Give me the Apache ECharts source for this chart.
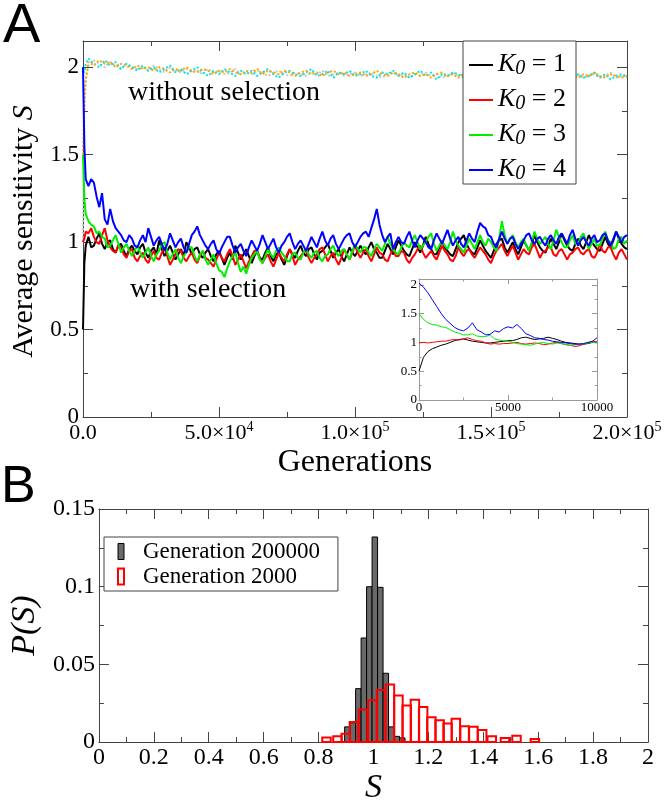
<!DOCTYPE html>
<html>
<head>
<meta charset="utf-8">
<title>Average sensitivity</title>
<script src="https://cdn.jsdelivr.net/npm/echarts@6/dist/echarts.min.js"></script>
<style>
    html, body {margin: 0; padding: 0; background: #fff;}
    #chartDiv {width: 667px; height: 806px;}
</style>
</head>
<body>
<div id="chartDiv"></div>
<script>
// ---------- panel A : long runs ----------
// with selection, sampled every 1000 generations
var selGens = [0, 500, 1000,
    2000, 3000, 4000, 5000, 6000, 7000, 8000, 9000, 10000, 11000,
    12000, 13000, 14000, 15000, 16000, 17000, 18000, 19000, 20000, 21000,
    22000, 23000, 24000, 25000, 26000, 27000, 28000, 29000, 30000, 31000,
    32000, 33000, 34000, 35000, 36000, 37000, 38000, 39000, 40000, 41000,
    42000, 43000, 44000, 45000, 46000, 47000, 48000, 49000, 50000, 51000,
    52000, 53000, 54000, 55000, 56000, 57000, 58000, 59000, 60000, 61000,
    62000, 63000, 64000, 65000, 66000, 67000, 68000, 69000, 70000, 71000,
    72000, 73000, 74000, 75000, 76000, 77000, 78000, 79000, 80000, 81000,
    82000, 83000, 84000, 85000, 86000, 87000, 88000, 89000, 90000, 91000,
    92000, 93000, 94000, 95000, 96000, 97000, 98000, 99000, 100000, 101000,
    102000, 103000, 104000, 105000, 106000, 107000, 108000, 109000, 110000, 111000,
    112000, 113000, 114000, 115000, 116000, 117000, 118000, 119000, 120000, 121000,
    122000, 123000, 124000, 125000, 126000, 127000, 128000, 129000, 130000, 131000,
    132000, 133000, 134000, 135000, 136000, 137000, 138000, 139000, 140000, 141000,
    142000, 143000, 144000, 145000, 146000, 147000, 148000, 149000, 150000, 151000,
    152000, 153000, 154000, 155000, 156000, 157000, 158000, 159000, 160000, 161000,
    162000, 163000, 164000, 165000, 166000, 167000, 168000, 169000, 170000, 171000,
    172000, 173000, 174000, 175000, 176000, 177000, 178000, 179000, 180000, 181000,
    182000, 183000, 184000, 185000, 186000, 187000, 188000, 189000, 190000, 191000,
    192000, 193000, 194000, 195000, 196000, 197000, 198000, 199000, 200000];

var k1Vals = [0.50, 0.88, 0.98,
    1.03, 0.97, 0.98, 1.02, 1.05, 0.99, 0.96, 1.00, 1.01, 0.96,
    0.94, 0.98, 0.99, 0.95, 0.92, 0.96, 0.98, 0.95, 0.93, 0.97,
    0.99, 0.94, 0.91, 0.95, 0.97, 0.93, 1.01, 0.96, 0.92, 0.95,
    0.98, 0.94, 0.90, 0.93, 0.96, 0.92, 1.00, 0.97, 0.93, 0.96,
    0.97, 0.93, 0.91, 0.94, 0.96, 0.92, 0.89, 0.93, 0.95, 0.91,
    0.87, 0.91, 0.94, 0.90, 0.98, 0.94, 0.90, 0.93, 0.96, 0.92,
    0.88, 0.92, 0.95, 0.91, 0.90, 0.94, 0.97, 0.92, 0.89, 0.93,
    0.94, 0.90, 0.87, 0.92, 0.96, 0.93, 0.91, 0.95, 0.98, 0.94,
    0.92, 0.96, 0.97, 0.93, 0.90, 0.94, 0.95, 0.97, 0.99, 0.95,
    0.91, 0.94, 0.96, 0.92, 0.89, 0.93, 0.97, 0.94, 0.92, 0.95,
    0.98, 0.95, 0.93, 0.97, 1.00, 0.96, 0.94, 0.91, 0.91, 0.95,
    0.99, 0.96, 0.93, 0.97, 1.01, 0.98, 0.95, 0.93, 0.92, 0.96,
    1.00, 0.97, 0.94, 0.98, 1.03, 0.99, 0.96, 0.93, 0.93, 0.97,
    1.01, 0.97, 0.95, 0.93, 0.92, 0.96, 1.00, 1.02, 1.04, 0.99,
    0.96, 0.94, 0.93, 0.97, 1.01, 0.98, 0.95, 0.93, 0.91, 0.95,
    0.99, 1.01, 1.02, 0.97, 0.94, 0.97, 1.00, 0.96, 0.93, 0.97,
    1.01, 0.98, 0.95, 0.99, 1.04, 1.00, 0.97, 0.95, 0.94, 0.98,
    1.02, 0.99, 0.96, 1.00, 1.05, 1.01, 0.98, 0.96, 0.95, 0.99,
    1.02, 0.98, 0.96, 1.00, 1.04, 1.00, 0.98, 0.96, 0.95, 0.99,
    1.03, 0.99, 0.97, 1.01, 1.06, 1.02, 0.99, 0.97, 0.96];
var k2Vals = [1.00, 1.02, 1.06,
    1.05, 1.08, 1.03, 1.00, 0.99, 1.04, 1.08, 1.01, 0.97, 0.95,
    0.94, 0.98, 0.97, 0.93, 0.91, 0.95, 0.96, 0.91, 0.89, 0.92,
    0.94, 0.90, 0.88, 0.92, 0.95, 0.91, 0.90, 0.94, 0.97, 0.92,
    0.87, 0.90, 0.93, 0.96, 0.95, 0.91, 0.89, 0.92, 0.94, 0.90,
    0.88, 0.92, 0.95, 0.91, 0.90, 0.88, 0.86, 0.90, 0.94, 0.91,
    0.89, 0.93, 0.96, 0.92, 0.87, 0.90, 0.93, 0.89, 0.85, 0.89,
    0.92, 0.95, 0.95, 0.91, 0.88, 0.91, 0.93, 0.89, 0.86, 0.90,
    0.94, 0.91, 0.89, 0.93, 0.96, 0.92, 0.87, 0.90, 0.92, 0.94,
    0.95, 0.91, 0.88, 0.91, 0.93, 0.96, 0.97, 0.93, 0.89, 0.92,
    0.94, 0.90, 0.87, 0.91, 0.96, 0.93, 0.90, 0.94, 0.98, 0.94,
    0.91, 0.94, 0.96, 0.92, 0.89, 0.93, 0.97, 0.94, 0.93, 0.90,
    0.89, 0.93, 0.96, 0.92, 0.92, 0.95, 0.94, 0.90, 0.88, 0.91,
    0.93, 0.96, 0.98, 0.94, 0.91, 0.93, 0.95, 0.92, 0.90, 0.94,
    0.98, 0.95, 0.93, 0.90, 0.89, 0.92, 0.97, 0.94, 0.92, 0.95,
    0.96, 0.93, 0.91, 0.94, 0.97, 0.95, 0.93, 0.90, 0.88, 0.92,
    0.95, 0.97, 0.99, 0.95, 0.92, 0.95, 0.98, 0.94, 0.90, 0.93,
    0.96, 0.94, 0.93, 0.97, 0.99, 0.95, 0.91, 0.94, 0.95, 0.97,
    0.97, 0.93, 0.92, 0.95, 0.96, 0.93, 0.90, 0.93, 0.94, 0.96,
    0.97, 0.94, 0.93, 0.95, 0.96, 0.92, 0.91, 0.94, 0.99, 0.95,
    0.94, 0.97, 0.97, 0.93, 0.90, 0.94, 0.96, 0.93, 0.90];
var k3Vals = [1.50, 1.25, 1.16,
    1.12, 1.10, 1.09, 1.05, 1.06, 1.03, 1.02, 0.97, 0.98, 1.01,
    1.04, 0.99, 0.94, 0.97, 0.99, 0.95, 0.92, 0.95, 0.98, 0.94,
    0.91, 0.94, 0.97, 0.92, 0.89, 0.93, 0.95, 0.99, 1.00, 0.94,
    0.90, 0.93, 0.96, 0.91, 0.88, 0.92, 0.94, 0.97, 0.97, 0.92,
    0.89, 0.93, 0.95, 0.90, 0.87, 0.90, 0.93, 0.88, 0.84, 0.83,
    0.80, 0.85, 0.89, 0.92, 0.94, 0.88, 0.83, 0.86, 0.82, 0.87,
    0.91, 0.93, 0.95, 0.90, 0.88, 0.92, 0.96, 0.93, 0.91, 0.95,
    0.97, 0.94, 0.92, 0.89, 0.89, 0.93, 0.94, 0.91, 0.90, 0.94,
    0.96, 0.93, 0.91, 0.94, 0.95, 0.91, 0.89, 0.92, 0.93, 0.96,
    0.98, 0.94, 0.92, 0.95, 0.96, 0.93, 0.90, 0.95, 0.99, 0.96,
    0.94, 0.97, 0.97, 0.94, 0.92, 0.96, 0.99, 0.97, 0.95, 0.99,
    1.03, 0.99, 0.96, 0.94, 0.93, 0.97, 1.00, 0.98, 0.97, 1.01,
    1.04, 1.00, 0.96, 0.98, 1.00, 1.03, 1.05, 0.99, 0.95, 0.98,
    1.01, 0.98, 0.96, 1.00, 1.06, 1.01, 0.98, 0.96, 0.94, 0.98,
    1.02, 0.99, 0.96, 1.00, 1.04, 1.00, 0.98, 1.02, 1.00, 0.97,
    0.95, 1.02, 1.12, 1.04, 0.99, 1.02, 1.04, 1.00, 0.97, 1.00,
    1.02, 0.98, 0.95, 1.00, 1.06, 1.02, 0.99, 1.01, 1.03, 0.99,
    0.96, 1.01, 1.07, 1.03, 1.00, 0.97, 0.97, 1.01, 1.04, 0.99,
    0.99, 1.03, 1.05, 1.00, 0.96, 0.99, 1.02, 0.98, 0.98, 1.02,
    1.06, 1.01, 1.00, 0.96, 0.97, 1.02, 1.03, 0.99, 1.01];
var k4Vals = [2.00, 1.55, 1.36,
    1.32, 1.36, 1.34, 1.26, 1.20, 1.28, 1.13, 1.10, 1.19, 1.12,
    1.08, 1.06, 1.04, 1.01, 1.00, 1.04, 1.02, 0.98, 0.97, 1.01,
    1.04, 1.00, 1.08, 1.03, 0.98, 1.01, 1.03, 0.99, 0.95, 0.99,
    1.05, 1.01, 0.97, 1.00, 1.02, 0.97, 0.94, 0.99, 1.04, 1.06,
    1.09, 1.04, 1.01, 0.98, 0.96, 0.99, 1.01, 0.96, 0.93, 0.97,
    1.00, 1.03, 1.03, 0.98, 0.94, 0.97, 0.99, 0.95, 0.92, 0.97,
    1.01, 0.98, 0.95, 0.99, 1.04, 1.00, 0.96, 0.99, 1.02, 0.97,
    0.94, 0.98, 1.00, 1.03, 1.05, 1.00, 0.96, 0.99, 1.01, 0.98,
    0.95, 0.99, 1.03, 1.00, 0.97, 1.02, 1.06, 1.01, 0.98, 1.02,
    1.04, 0.99, 0.96, 0.99, 1.02, 1.04, 1.05, 1.00, 0.97, 1.00,
    1.03, 1.05, 1.06, 1.03, 1.08, 1.13, 1.19, 1.10, 1.04, 1.00,
    1.03, 1.05, 0.96, 1.00, 1.03, 1.00, 0.99, 1.03, 1.06, 1.01,
    0.97, 1.01, 1.04, 1.02, 1.00, 0.97, 0.96, 1.01, 1.05, 1.02,
    0.99, 1.03, 1.07, 1.02, 0.98, 1.01, 1.03, 0.99, 0.97, 1.01,
    1.05, 1.02, 1.00, 1.06, 1.11, 1.09, 1.08, 1.04, 1.03, 0.99,
    0.97, 1.02, 1.06, 1.02, 0.99, 1.02, 1.03, 0.99, 0.96, 0.99,
    1.01, 1.04, 1.05, 1.01, 0.99, 1.02, 1.03, 1.00, 0.98, 1.02,
    1.04, 1.01, 0.99, 1.03, 1.05, 1.02, 0.99, 1.04, 1.07, 1.02,
    0.98, 1.01, 1.03, 1.00, 0.98, 1.02, 1.04, 1.00, 1.01, 1.04,
    1.05, 1.01, 0.98, 1.02, 1.06, 1.03, 1.00, 1.03, 1.04];

// without selection (dotted), sampled every 2000 generations
var freeGens = [0, 500, 1000,
    2000, 4000, 6000, 8000, 10000, 12000, 14000, 16000, 18000, 20000,
    22000, 24000, 26000, 28000, 30000, 32000, 34000, 36000, 38000, 40000,
    42000, 44000, 46000, 48000, 50000, 52000, 54000, 56000, 58000, 60000,
    62000, 64000, 66000, 68000, 70000, 72000, 74000, 76000, 78000, 80000,
    82000, 84000, 86000, 88000, 90000, 92000, 94000, 96000, 98000, 100000,
    102000, 104000, 106000, 108000, 110000, 112000, 114000, 116000, 118000, 120000,
    122000, 124000, 126000, 128000, 130000, 132000, 134000, 136000, 138000, 140000,
    142000, 144000, 146000, 148000, 150000, 152000, 154000, 156000, 158000, 160000,
    162000, 164000, 166000, 168000, 170000, 172000, 174000, 176000, 178000, 180000,
    182000, 184000, 186000, 188000, 190000, 192000, 194000, 196000, 198000, 200000];
var freeGrayVals = [1.00, 1.75, 1.92,
    2.01, 2.04, 2.02, 2.00, 2.03, 2.01, 1.99, 2.02, 2.00, 1.99,
    2.00, 1.98, 2.01, 1.99, 1.97, 2.00, 1.98, 1.97, 1.99, 1.97,
    1.98, 1.96, 1.99, 1.97, 1.98, 1.96, 1.97, 1.99, 1.96, 1.97,
    1.96, 1.98, 1.97, 1.95, 1.97, 1.98, 1.96, 1.95, 1.97, 1.96,
    1.95, 1.97, 1.96, 1.98, 1.95, 1.96, 1.97, 1.95, 1.96, 1.97,
    1.95, 1.96, 1.97, 1.95, 1.94, 1.96, 1.97, 1.95, 1.96, 1.94,
    1.96, 1.95, 1.97, 1.95, 1.96, 1.94, 1.95, 1.97, 1.95, 1.96,
    1.94, 1.96, 1.95, 1.97, 1.95, 1.94, 1.96, 1.95, 1.94, 1.96,
    1.95, 1.97, 1.94, 1.95, 1.96, 1.94, 1.95, 1.96, 1.94, 1.95,
    1.96, 1.94, 1.95, 1.96, 1.94, 1.95, 1.97, 1.94, 1.95, 1.96];
var freeCyanVals = [2.00, 1.97, 2.02,
    2.05, 2.02, 2.00, 2.04, 2.01, 2.03, 1.99, 2.02, 2.00, 1.98,
    2.01, 1.98, 2.00, 1.97, 1.99, 2.01, 1.97, 1.99, 1.96, 1.98,
    2.00, 1.97, 1.95, 1.98, 1.96, 1.99, 1.97, 1.95, 1.98, 1.96,
    1.98, 1.95, 1.97, 1.99, 1.96, 1.94, 1.97, 1.98, 1.96, 1.95,
    1.97, 1.99, 1.95, 1.96, 1.98, 1.94, 1.97, 1.96, 1.98, 1.95,
    1.96, 1.98, 1.95, 1.94, 1.97, 1.96, 1.98, 1.95, 1.97, 1.94,
    1.96, 1.98, 1.95, 1.97, 1.93, 1.96, 1.95, 1.97, 1.96, 1.94,
    1.97, 1.95, 1.93, 1.96, 1.98, 1.95, 1.94, 1.96, 1.95, 1.97,
    1.94, 1.96, 1.95, 1.93, 1.96, 1.97, 1.94, 1.96, 1.95, 1.93,
    1.96, 1.94, 1.95, 1.97, 1.94, 1.96, 1.93, 1.95, 1.96, 1.94];
var freeOrangeVals = [1.50, 1.82, 1.93,
    2.03, 2.01, 2.04, 2.02, 2.03, 2.00, 2.02, 2.01, 1.99, 2.01,
    1.99, 2.00, 1.98, 2.00, 1.99, 1.97, 1.99, 1.98, 2.00, 1.98,
    1.97, 1.99, 1.98, 1.96, 1.98, 1.97, 1.99, 1.97, 1.96, 1.98,
    1.97, 1.99, 1.96, 1.98, 1.97, 1.96, 1.98, 1.97, 1.95, 1.97,
    1.98, 1.96, 1.97, 1.95, 1.97, 1.98, 1.96, 1.97, 1.95, 1.96,
    1.97, 1.95, 1.96, 1.98, 1.96, 1.95, 1.97, 1.96, 1.94, 1.96,
    1.97, 1.95, 1.96, 1.94, 1.96, 1.97, 1.95, 1.96, 1.94, 1.96,
    1.95, 1.97, 1.95, 1.96, 1.94, 1.95, 1.97, 1.95, 1.96, 1.94,
    1.96, 1.95, 1.97, 1.95, 1.94, 1.96, 1.95, 1.94, 1.96, 1.95,
    1.94, 1.96, 1.95, 1.97, 1.95, 1.94, 1.96, 1.95, 1.94, 1.95];

// ---------- inset : first 10000 generations ----------
var insetGens = [0, 250, 500, 750, 1000, 1250, 1500, 1750, 2000, 2250,
    2500, 2750, 3000, 3250, 3500, 3750, 4000, 4250, 4500, 4750,
    5000, 5250, 5500, 5750, 6000, 6250, 6500, 6750, 7000, 7250,
    7500, 7750, 8000, 8250, 8500, 8750, 9000, 9250, 9500, 9750, 10000];
var insetK1 = [0.50, 0.74, 0.84, 0.89, 0.92, 0.95, 0.97, 1.00, 1.03, 1.05,
    1.06, 1.04, 1.02, 1.01, 1.00, 0.99, 0.99, 1.00, 1.01, 1.02,
    1.03, 1.03, 1.05, 1.08, 1.09, 1.07, 1.05, 1.06, 1.07, 1.09,
    1.07, 1.05, 1.02, 1.00, 0.99, 0.98, 0.97, 0.97, 0.98, 1.00, 1.00];
var insetK2 = [0.99, 1.00, 0.99, 1.00, 1.01, 1.02, 1.02, 1.04, 1.05, 1.04,
    1.06, 1.08, 1.05, 1.03, 1.02, 0.99, 0.97, 0.98, 0.97, 0.98,
    0.98, 0.99, 1.00, 0.98, 0.97, 0.98, 0.99, 0.98, 0.96, 0.97,
    0.99, 1.00, 0.98, 0.96, 0.95, 0.93, 0.94, 0.97, 0.99, 1.02, 1.01];
var insetK3 = [1.50, 1.40, 1.34, 1.31, 1.30, 1.27, 1.26, 1.22, 1.18, 1.16,
    1.13, 1.13, 1.15, 1.11, 1.10, 1.10, 1.13, 1.06, 1.04, 1.03,
    1.02, 1.00, 0.98, 0.97, 0.96, 0.95, 0.97, 0.99, 1.00, 0.98,
    0.97, 0.99, 0.98, 0.96, 0.95, 0.96, 0.97, 0.98, 0.99, 1.00, 0.99];
var insetK4 = [2.03, 1.96, 1.86, 1.74, 1.62, 1.50, 1.40, 1.33, 1.26, 1.22,
    1.20, 1.25, 1.34, 1.22, 1.18, 1.13, 1.14, 1.20, 1.18, 1.24,
    1.27, 1.25, 1.31, 1.24, 1.15, 1.12, 1.08, 1.07, 1.05, 1.04,
    1.02, 1.01, 1.00, 0.99, 0.98, 0.97, 0.97, 0.98, 1.00, 1.02, 1.08];

// ---------- panel B : histograms ----------
var grayBinCenter = [0.905, 0.925, 0.945, 0.965, 0.985, 1.005, 1.025, 1.045, 1.065, 1.085, 1.105];
var grayFreq = [0.0098, 0.0125, 0.0344, 0.067, 0.100, 0.132, 0.0996, 0.0443, 0.0098, 0.0037, 0.0027];
var grayBinWidth = 0.02;

var redBinCenter = [0.829, 0.869, 0.899, 0.929, 0.962, 0.996, 1.028, 1.060, 1.091, 1.121, 1.151,
    1.181, 1.211, 1.241, 1.270, 1.300, 1.332, 1.364, 1.396, 1.431, 1.479, 1.521, 1.588];
var redFreq = [0.0029, 0.0037, 0.0053, 0.0129, 0.021, 0.027, 0.0335, 0.037, 0.030, 0.0235, 0.0273,
    0.0226, 0.016, 0.014, 0.0119, 0.015, 0.0102, 0.0098, 0.0078, 0.0037, 0.0027, 0.0041, 0.0020];
var redBinWidth = 0.031;

var kNames = ['K0 = 1', 'K0 = 2', 'K0 = 3', 'K0 = 4'];
var histNames = ['Generation 200000', 'Generation 2000'];

var serif = '"Liberation Serif", "DejaVu Serif", serif';
var sans = '"Liberation Sans", Arial, sans-serif';

var chartDiv = echarts.init(document.getElementById('chartDiv'));

function pairs(xs, ys) {
    return xs.map(function (x, i) {
        return [x, ys[i]];
    });
}

function bins(centers, freqs, width) {
    return centers.map(function (c, i) {
        return [c - width / 2, c + width / 2, freqs[i]];
    });
}

/*
* 坐标轴 -- 刻度朝内
* */
function frameAxis(gridIndex, position, min, max, interval, color, tickLen, label) {
    return {
        type: 'value',
        gridIndex: gridIndex,
        position: position,
        min: min,
        max: max,
        interval: interval,
        splitLine: {show: false},
        axisLine: {show: true, onZero: false, lineStyle: {color: color, width: 1}},
        axisTick: {show: true, inside: true, length: tickLen, lineStyle: {color: color}},
        minorTick: {show: true, splitNumber: 2, length: tickLen / 2, lineStyle: {color: color}},
        axisLabel: label || {show: false}
    };
}

// 只在整步长处显示标签
function onStep(step) {
    return function (v) {
        var r = v / step;
        if (Math.abs(r - Math.round(r)) > 1e-6) return '';
        return String(Math.round(v * 1000) / 1000);
    };
}

function sciLabel(v) {
    if (v === 0) return '{m|0.0}';
    var exp = Math.floor(Math.log10(v) + 1e-9);
    var mant = v / Math.pow(10, exp);
    return '{m|' + mant.toFixed(1) + '×10}{e|' + exp + '}';
}

function lineSeries(name, xi, yi, xs, ys, color, width, dash) {
    return {
        type: 'line',
        name: name,
        xAxisIndex: xi,
        yAxisIndex: yi,
        data: pairs(xs, ys),
        showSymbol: false,
        symbol: 'none',
        clip: true,
        lineStyle: {color: color, width: width, type: dash || 'solid'},
        itemStyle: {color: color}
    };
}

function binRenderer(fill, stroke, lineWidth) {
    return function (params, api) {
        var top = api.coord([api.value(0), api.value(2)]);
        var bottom = api.coord([api.value(1), 0]);
        return {
            type: 'rect',
            shape: {x: top[0], y: top[1], width: bottom[0] - top[0], height: bottom[1] - top[1]},
            style: {fill: fill, stroke: stroke, lineWidth: lineWidth}
        };
    };
}

var colorA = '#444';

var option = {
    animation: false,
    backgroundColor: '#fff',
    grid: [
        {left: 83, top: 41, width: 544, height: 376},
        {left: 419, top: 279, width: 178, height: 121, show: true, backgroundColor: '#fff', borderWidth: 0},
        {left: 93, top: 509, width: 555, height: 244}
    ],
    legend: [
        {
            data: kNames,
            orient: 'vertical',
            left: 463,
            top: 41,
            backgroundColor: '#fff',
            borderColor: '#444',
            borderWidth: 1,
            padding: [2, 10, 0, 6],
            itemGap: -1,
            itemWidth: 24,
            itemHeight: 2,
            icon: 'rect',
            selectedMode: false,
            formatter: function (name) {
                return '{k|K}{s|0}{t| = ' + name.slice(-1) + '}';
            },
            textStyle: {
                rich: {
                    k: {fontFamily: serif, fontStyle: 'italic', fontSize: 26, lineHeight: 28, verticalAlign: 'top', color: '#000'},
                    s: {fontFamily: serif, fontStyle: 'italic', fontSize: 20, lineHeight: 20, padding: [16, 0, 0, 0], verticalAlign: 'bottom', color: '#000'},
                    t: {fontFamily: serif, fontSize: 26, lineHeight: 28, verticalAlign: 'top', color: '#000'}
                }
            }
        },
        {
            data: [
                {name: histNames[0], icon: 'rect', itemStyle: {color: '#696969', borderColor: '#000', borderWidth: 1}},
                {name: histNames[1], icon: 'rect', itemStyle: {color: '#fff', borderColor: '#f00', borderWidth: 2}}
            ],
            orient: 'vertical',
            left: 104,
            top: 537,
            backgroundColor: '#fff',
            borderColor: '#444',
            borderWidth: 1,
            padding: [3, 18, 3, 13],
            itemGap: 2,
            itemWidth: 6,
            itemHeight: 16,
            selectedMode: false,
            textStyle: {fontFamily: serif, fontSize: 23, lineHeight: 20, color: '#000', padding: [0, 0, 0, 14]}
        }
    ],
    xAxis: [
        (function () {
            var ax = frameAxis(0, 'bottom', 0, 200000, 50000, colorA, 10, {
                show: true, margin: 3, formatter: sciLabel,
                rich: {
                    m: {fontFamily: serif, fontSize: 22, lineHeight: 26, color: '#000'},
                    e: {fontFamily: serif, fontSize: 14, lineHeight: 12, verticalAlign: 'top', color: '#000'}
                }
            });
            ax.name = 'Generations';
            ax.nameLocation = 'middle';
            ax.nameGap = 30;
            ax.nameTextStyle = {fontFamily: serif, fontSize: 32, color: '#000'};
            return ax;
        })(),
        frameAxis(0, 'top', 0, 200000, 50000, colorA, 10),
        frameAxis(1, 'bottom', 0, 10000, 5000, '#999', 5, {
            show: true, margin: 1, fontFamily: serif, fontSize: 13, color: '#000',
            formatter: function (v) { return String(v); }
        }),
        frameAxis(1, 'top', 0, 10000, 5000, '#999', 5),
        (function () {
            var ax = frameAxis(2, 'bottom', 0, 2, 0.2, colorA, 10, {
                show: true, margin: 4, fontFamily: serif, fontSize: 24, color: '#000'
            });
            ax.name = 'S';
            ax.nameLocation = 'middle';
            ax.nameGap = 24;
            ax.nameTextStyle = {fontFamily: serif, fontStyle: 'italic', fontSize: 34, color: '#000'};
            return ax;
        })(),
        frameAxis(2, 'top', 0, 2, 0.2, colorA, 10)
    ],
    yAxis: [
        (function () {
            var ax = frameAxis(0, 'left', 0, 2.15, 0.5, colorA, 10, {
                show: true, margin: 4, fontFamily: serif, fontSize: 23, color: '#000',
                formatter: onStep(0.5)
            });
            ax.name = '{a|Average sensitivity }{b|S}';
            ax.nameLocation = 'middle';
            ax.nameGap = 42;
            ax.nameTextStyle = {
                padding: [0, 5, 0, 0],
                rich: {
                    a: {fontFamily: serif, fontSize: 30, color: '#000'},
                    b: {fontFamily: serif, fontStyle: 'italic', fontSize: 30, color: '#000'}
                }
            };
            return ax;
        })(),
        frameAxis(0, 'right', 0, 2.15, 0.5, colorA, 10),
        frameAxis(1, 'left', 0, 2.1, 0.5, '#999', 5, {
            show: true, margin: 2, fontFamily: serif, fontSize: 13, color: '#000',
            formatter: onStep(0.5)
        }),
        frameAxis(1, 'right', 0, 2.1, 0.5, '#999', 5),
        (function () {
            var ax = frameAxis(2, 'left', 0, 0.15, 0.05, colorA, 10, {
                show: true, margin: 4, fontFamily: serif, fontSize: 24, color: '#000'
            });
            ax.name = 'P(S)';
            ax.nameLocation = 'middle';
            ax.nameGap = 48;
            ax.nameTextStyle = {fontFamily: serif, fontStyle: 'italic', fontSize: 34, color: '#000'};
            return ax;
        })(),
        frameAxis(2, 'right', 0, 0.15, 0.05, colorA, 10)
    ],
    series: [
        lineSeries('free gray', 0, 0, freeGens, freeGrayVals, '#c8c8c8', 2, [2, 2]),
        lineSeries('free cyan', 0, 0, freeGens, freeCyanVals, '#00e5ee', 2, [2, 2]),
        lineSeries('free orange', 0, 0, freeGens, freeOrangeVals, '#ffa500', 2, [2, 2]),
        lineSeries(kNames[0], 0, 0, selGens, k1Vals, '#000000', 2),
        lineSeries(kNames[1], 0, 0, selGens, k2Vals, '#ff0000', 2),
        lineSeries(kNames[2], 0, 0, selGens, k3Vals, '#00ee00', 2),
        lineSeries(kNames[3], 0, 0, selGens, k4Vals, '#0000ff', 2),
        lineSeries('inset 1', 2, 2, insetGens, insetK1, '#000000', 1),
        lineSeries('inset 2', 2, 2, insetGens, insetK2, '#ff0000', 1),
        lineSeries('inset 3', 2, 2, insetGens, insetK3, '#00ee00', 1),
        lineSeries('inset 4', 2, 2, insetGens, insetK4, '#0000ff', 1),
        {
            type: 'custom',
            name: histNames[0],
            xAxisIndex: 4,
            yAxisIndex: 4,
            dimensions: ['lo', 'hi', 'p'],
            encode: {x: [0, 1], y: 2},
            data: bins(grayBinCenter, grayFreq, grayBinWidth),
            itemStyle: {color: '#696969', borderColor: '#000', borderWidth: 1},
            renderItem: binRenderer('#696969', '#000', 1)
        },
        {
            type: 'custom',
            name: histNames[1],
            xAxisIndex: 4,
            yAxisIndex: 4,
            dimensions: ['lo', 'hi', 'p'],
            encode: {x: [0, 1], y: 2},
            data: bins(redBinCenter, redFreq, redBinWidth),
            itemStyle: {color: '#fff', borderColor: '#f00', borderWidth: 2},
            renderItem: binRenderer('rgba(0,0,0,0)', '#f00', 2)
        }
    ],
    graphic: [
        {type: 'text', x: 3, y: 27, style: {text: 'A', font: '56px ' + sans, fill: '#000', verticalAlign: 'middle'}},
        {type: 'text', x: 1, y: 488, style: {text: 'B', font: '52px ' + sans, fill: '#000', verticalAlign: 'middle'}},
        {type: 'text', x: 128, y: 93, style: {text: 'without selection', font: '28px ' + serif, fill: '#000', verticalAlign: 'middle'}},
        {type: 'text', x: 130, y: 290, style: {text: 'with selection', font: '28px ' + serif, fill: '#000', verticalAlign: 'middle'}}
    ]
};

chartDiv.setOption(option);
</script>
</body>
</html>
